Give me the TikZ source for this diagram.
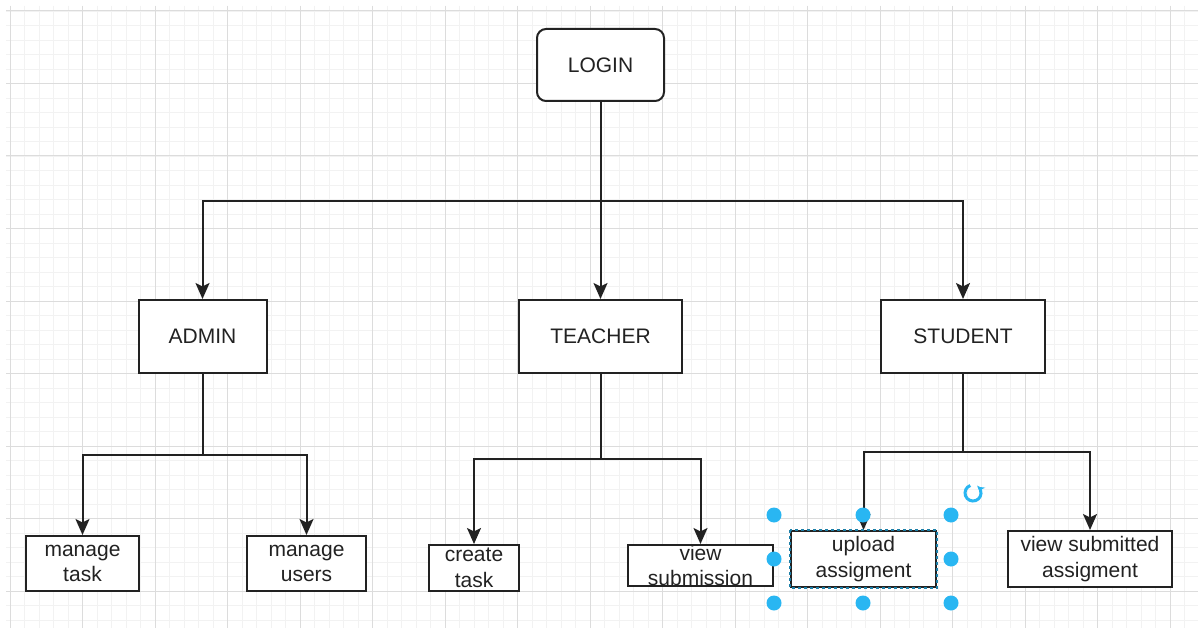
\documentclass[tikz,border=0pt]{standalone}
\usepackage{fontspec}
\setmainfont{Liberation Sans}
\usetikzlibrary{arrows.meta}
\definecolor{gridminor}{HTML}{F2F2F2}
\definecolor{gridmajor}{HTML}{DCDCDC}
\definecolor{ink}{HTML}{222222}
\definecolor{handle}{HTML}{29B6F2}
\begin{document}
\begin{tikzpicture}[x=1pt,y=-1pt,>={Stealth[length=16pt,width=14pt,inset=3.5pt]},
    font=\fontsize{21}{25.5}\selectfont,line width=2pt,
    box/.style={draw=ink,fill=white,text=ink,inner sep=0pt,align=center},
    arr/.style={->,draw=ink},
    link/.style={draw=ink}]
    \def\gx{10} \def\gy{11} \def\gs{72.5}
    \useasboundingbox[fill=white] (0,0) rectangle (1198,628);
    %===========================================
    \foreach \i in {0,...,81} \draw[gridminor,line width=0.8pt] ({\gx+\i*\gs/5},6)--({\gx+\i*\gs/5},628);
    \foreach \j in {0,...,42} \draw[gridminor,line width=0.8pt] (6,{\gy+\j*\gs/5})--(1198,{\gy+\j*\gs/5});
    \foreach \i in {0,...,16} \draw[gridmajor,line width=1pt] ({\gx+\i*\gs},6)--({\gx+\i*\gs},628);
    \foreach \j in {0,...,8} \draw[gridmajor,line width=1pt] (6,{\gy+\j*\gs})--(1198,{\gy+\j*\gs});
    %===========================================
    \node[box,rounded corners=9pt,minimum width=127pt,minimum height=72pt] (login) at (600.5,65) {LOGIN};
    \node[box,minimum width=128pt,minimum height=73pt] (admin) at (202.5,336.5) {ADMIN};
    \node[box,minimum width=163pt,minimum height=73pt] (teacher) at (600.5,336.5) {TEACHER};
    \node[box,minimum width=164pt,minimum height=73pt] (student) at (963,336.5) {STUDENT};
    \node[box,minimum width=113pt,minimum height=55pt] (mtask) at (82.5,563.5) {manage\\task};
    \node[box,minimum width=119pt,minimum height=55pt] (musers) at (306.5,563.5) {manage\\users};
    \node[box,minimum width=90pt,minimum height=46pt] (ctask) at (474,568) {create\\task};
    \node[box,minimum width=145pt,minimum height=41pt] (vsub) at (700.5,565.5) {view\\submission};
    \node[box,minimum width=145pt,minimum height=56pt] (upload) at (863.5,559) {upload\\assigment};
    \node[box,minimum width=164pt,minimum height=56pt] (vsubmitted) at (1090,559) {view submitted\\assigment};
    %===========================================
    \coordinate (lj) at (600.5,201);
    \coordinate (aj) at (202.5,455);
    \coordinate (tj) at (600.5,459);
    \coordinate (sj) at (963,452);
    \draw[link] (login)--(lj);
    \draw[arr] (lj)-|(admin);
    \draw[arr] (lj)--(teacher);
    \draw[arr] (lj)-|(student);
    \draw[link] (admin)--(aj);
    \draw[arr] (aj)-|(mtask);
    \draw[arr] (aj)-|(musers);
    \draw[link] (teacher)--(tj);
    \draw[arr] (tj)-|(ctask);
    \draw[arr] (tj)-|(vsub);
    \draw[link] (student)--(sj);
    \draw[arr] (sj)-|(upload);
    \draw[arr] (sj)-|(vsubmitted);
    %===========================================
    \draw[handle!70!black,dashed,line width=1.5pt] (upload.north west) rectangle (upload.south east);
    \foreach \p in {(774,515),(863,515),(951,515),(774,559),(951,559),(774,603),(863,603),(951,603)}
        \fill[handle] \p circle (7.5pt);
    \draw[handle,line width=3pt,-{Stealth[length=6pt,width=8pt]}] (973,493) ++(110:8pt) arc[start angle=110,end angle=410,radius=8pt];
\end{tikzpicture}
\end{document}
